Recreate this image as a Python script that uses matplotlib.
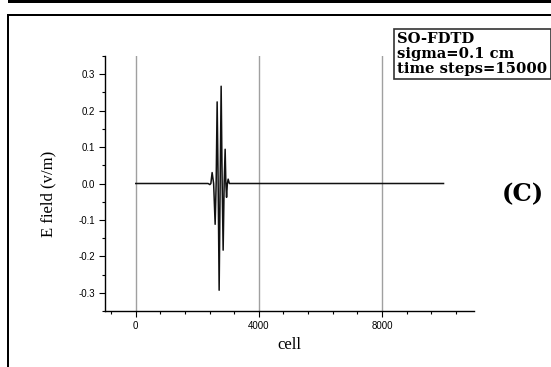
import matplotlib
matplotlib.use("Agg")
import matplotlib.pyplot as plt
from matplotlib.patches import Rectangle
from matplotlib.ticker import MultipleLocator

# Data
cells = [0, 2350, 2407, 2440, 2481, 2530, 2579, 2612, 2644, 2677, 2709, 2742,
         2774, 2807, 2839, 2872, 2904, 2927, 2950, 2976, 3002, 3040, 10000]
efield = [0, 0, -0.003, 0, 0.030, 0, -0.112, 0, 0.224, 0, -0.293, 0,
          0.267, 0, -0.183, 0, 0.094, 0, -0.038, 0, 0.012, 0, 0]
xticks = [0, 4000, 8000]
yticks = [-0.3, -0.2, -0.1, 0.0, 0.1, 0.2, 0.3]
info_lines = ["SO-FDTD", "sigma=0.1 cm", "time steps=15000"]

W, H = 551, 367
fig = plt.figure(figsize=(W / 100, H / 100), dpi=100)

def fx(px):
    return px / W

def fy(py):
    return 1 - py / H

ax = fig.add_axes([fx(105), fy(311), fx(474.3) - fx(105), fy(56) - fy(311)])
ax.plot(cells, efield, color="#111111", lw=1.1)
ax.set_xlim(-1000, 11000)
ax.set_ylim(-0.35, 0.35)
ax.set_xticks(xticks)
ax.set_xticklabels([str(t) for t in xticks])
ax.set_yticks(yticks)
ax.set_yticklabels([f"{t:.1f}" for t in yticks])
ax.xaxis.set_minor_locator(MultipleLocator(800))
ax.yaxis.set_minor_locator(MultipleLocator(0.05))
ax.grid(True, axis="x", which="major", color="#a0a0a0", lw=1.0)
ax.set_axisbelow(True)
for s in ["top", "right"]:
    ax.spines[s].set_visible(False)
for s in ["left", "bottom"]:
    ax.spines[s].set_linewidth(1.0)
ax.tick_params(which="major", direction="out", length=4, width=0.8,
               labelsize=7, pad=3)
ax.tick_params(which="minor", direction="out", length=2.5, width=0.8)
for lab in ax.get_xticklabels() + ax.get_yticklabels():
    lab.set_family("Liberation Sans")

ax.set_xlabel("cell", family="Liberation Serif", fontsize=12)
ax.xaxis.set_label_coords(0.5, (fy(345) - fy(311)) / (fy(56) - fy(311)))
ax.xaxis.label.set_va("center")
ax.set_ylabel("E field (v/m)", family="Liberation Serif", fontsize=12)
ax.yaxis.set_label_coords((fx(48) - fx(105)) / (fx(474.3) - fx(105)),
                          (fy(194) - fy(311)) / (fy(56) - fy(311)))
ax.yaxis.label.set_va("center")

# Info box
fig.patches.append(Rectangle((fx(394), fy(79)), fx(551) - fx(394), fy(29) - fy(79),
                             transform=fig.transFigure, fill=False,
                             edgecolor="#333333", lw=1.2))
fig.text(fx(397), fy(54), "\n".join(info_lines), family="DejaVu Serif",
         fontweight="bold", fontsize=10.6, va="center", ha="left",
         linespacing=1.05)

fig.text(fx(523), fy(194), "(C)", family="DejaVu Serif", fontweight="bold",
         fontsize=17.5, ha="center", va="center")

# Outer frame pieces (panel borders)
fig.patches.append(Rectangle((fx(8), fy(3)), fx(551) - fx(8), fy(0) - fy(3),
                             transform=fig.transFigure, color="black", lw=0))
fig.patches.append(Rectangle((fx(7), fy(16)), fx(551) - fx(7), fy(14) - fy(16),
                             transform=fig.transFigure, color="black", lw=0))
fig.patches.append(Rectangle((fx(7), fy(367)), fx(9) - fx(7), fy(14) - fy(367),
                             transform=fig.transFigure, color="black", lw=0))

fig.savefig("out.png", dpi=100)
